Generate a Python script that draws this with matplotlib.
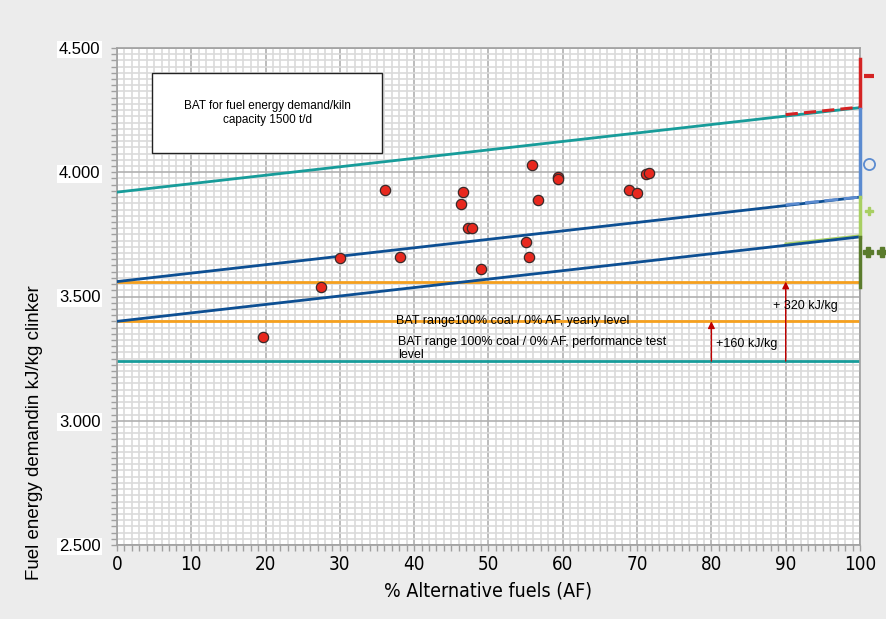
import matplotlib
matplotlib.use("Agg")
import matplotlib.pyplot as plt
from matplotlib.font_manager import FontProperties
from matplotlib.ticker import MultipleLocator, FuncFormatter

# --- data ---
af_pct = [19.7, 27.5, 30.0, 36.1, 38.1, 46.3, 46.6, 47.2, 47.8, 49.0,
          55.0, 55.5, 55.8, 56.6, 59.3, 59.3, 68.9, 70.0, 71.2, 71.6]
energy = [3336, 3540, 3655, 3927, 3658, 3873, 3922, 3776, 3777, 3611,
          3719, 3659, 4029, 3888, 3982, 3972, 3927, 3918, 3994, 3996]

x_ticks = [0, 10, 20, 30, 40, 50, 60, 70, 80, 90, 100]

bat_x = [0, 100]
teal_upper = [3920, 4260]
blue_upper = [3560, 3900]
blue_lower = [3400, 3740]
orange_levels = [3560, 3400]
perf_level = 3240

# short series near 90-100 % AF
seg_x = [90, 100]
red_seg = [4232, 4262]
lblue_seg = [3869, 3900]
lgreen_seg = [3712, 3745]

# vertical ranges at 100 % AF
red_vert = [4262, 4456]
lblue_vert = [3900, 4255]
lgreen_vert = [3740, 3900]
dgreen_vert = [3540, 3740]

TEAL = "#179c9a"
DBLUE = "#0d4f93"
LBLUE = "#5b8bd0"
ORANGE = "#f5a01e"
RED = "#d42424"
LGREEN = "#a8cf62"
DGREEN = "#5a7b2c"
BG = "#ececec"

plt.rcParams["font.family"] = ["Liberation Sans", "DejaVu Sans"]

fig = plt.figure(figsize=(8.87, 6.19), dpi=100, facecolor=BG)
ax = fig.add_axes([117 / 887, 1 - 545 / 619, 743 / 887, 497 / 619])
ax.set_facecolor("white")

ax.set_xlim(0, 100)
ax.set_ylim(2500, 4500)
ax.xaxis.set_minor_locator(MultipleLocator(1))
ax.yaxis.set_major_locator(MultipleLocator(500))
ax.yaxis.set_minor_locator(MultipleLocator(25))
ax.grid(which="minor", color="#dadada", lw=1.2, zorder=0)
ax.grid(which="major", color="#b0b0b0", lw=1.2, zorder=0.5)
ax.set_axisbelow(True)
for sp in ax.spines.values():
    sp.set_color("#a0a0a0")
    sp.set_linewidth(1.2)

ax.set_xticks(x_ticks)
ax.set_xticklabels([str(t) for t in x_ticks],
                   fontproperties=FontProperties(family="DejaVu Sans",
                                                 stretch="condensed", size=13.5))
ax.yaxis.set_major_formatter(FuncFormatter(lambda v, p: f"{v:,.0f}".replace(",", ".")))
ax.tick_params(which="both", color="#a0a0a0", length=4, width=1)
ax.tick_params(axis="y", labelsize=12, pad=8)
ax.tick_params(axis="x", pad=3)
for lab in ax.get_yticklabels():
    lab.set_bbox(dict(facecolor="white", edgecolor="none", pad=1))

# horizontal reference levels
for lvl in orange_levels:
    ax.axhline(lvl, color=ORANGE, lw=2, zorder=2)
ax.axhline(perf_level, color=TEAL, lw=2, zorder=2)

# sloped BAT lines
ax.plot(bat_x, teal_upper, color=TEAL, lw=2, zorder=3)
ax.plot(bat_x, blue_upper, color=DBLUE, lw=2, zorder=3)
ax.plot(bat_x, blue_lower, color=DBLUE, lw=2, zorder=3)

ax.plot(seg_x, red_seg, color=RED, lw=2.2, ls=(0, (4, 2)), zorder=4)
ax.plot(seg_x, lblue_seg, color=LBLUE, lw=2, ls=(0, (5, 2)), zorder=4)
ax.plot(seg_x, lgreen_seg, color=LGREEN, lw=1.8, zorder=2.5)

ax.plot([100, 100], red_vert, color=RED, lw=2.5, zorder=4, clip_on=False)
ax.plot([100, 100], lblue_vert, color=LBLUE, lw=2.5, zorder=4, clip_on=False)
ax.plot([100, 100], lgreen_vert, color=LGREEN, lw=2.5, zorder=4, clip_on=False)
ax.plot([100, 100], dgreen_vert, color=DGREEN, lw=2.5, zorder=4, clip_on=False)

# legend-like symbols right of the plot
ax.plot([101.2], [4387], marker="_", ms=7, mew=3, color=RED, clip_on=False)
ax.plot([101.2], [4033], marker="o", ms=8, mfc="none", mec=LBLUE, mew=1.3, clip_on=False)
ax.plot([101.2], [3844], marker="P", ms=6, color=LGREEN, mec=LGREEN, clip_on=False)
ax.plot([101.1, 103.0], [3679, 3679], ls="none", marker="P", ms=6.5,
        color=DGREEN, mec=DGREEN, clip_on=False)

ax.scatter(af_pct, energy, s=55, color="#e8281e", edgecolors="#3a2a2a",
           linewidths=0.9, zorder=6)

# arrows and labels
arrow = dict(arrowstyle="-|>", color="#c00000", lw=1, mutation_scale=10,
             shrinkA=0, shrinkB=0)
ax.annotate("", xy=(80, 3400), xytext=(80, perf_level), arrowprops=arrow, zorder=5)
ax.annotate("", xy=(90, 3560), xytext=(90, perf_level), arrowprops=arrow, zorder=5)
ax.text(80.6, 3308, "+160 kJ/kg", fontsize=9, va="center", zorder=5)
ax.text(88.3, 3462, "+ 320 kJ/kg", fontsize=9, va="center", zorder=5)
ax.text(37.5, 3401, "BAT range100% coal / 0% AF, yearly level", fontsize=9,
        va="center", zorder=5)
ax.text(37.8, 3290, "BAT range 100% coal / 0% AF, performance test\nlevel",
        fontsize=9, va="center", linespacing=1.15, zorder=5)

ax.text(20.2, 4238, "BAT for fuel energy demand/kiln\ncapacity 1500 t/d",
        fontsize=8.5, ha="center", va="center", zorder=7,
        bbox=dict(boxstyle="square,pad=0", facecolor="white", edgecolor="none"))
ax.add_patch(plt.Rectangle((4.7, 4077), 31.0, 322, facecolor="white",
                           edgecolor="#222222", lw=1, zorder=6.5))

fig.text(35 / 887, 1 - 433 / 619, "Fuel energy demandin kJ/kg clinker",
         rotation=90, ha="center", va="center", fontsize=13.5)
fig.text(488 / 887, 1 - 591 / 619, "% Alternative fuels (AF)",
         ha="center", va="center", fontsize=14,
         fontproperties=FontProperties(family="DejaVu Sans", stretch="condensed", size=14))

fig.savefig("out.png", dpi=100, facecolor=BG)
